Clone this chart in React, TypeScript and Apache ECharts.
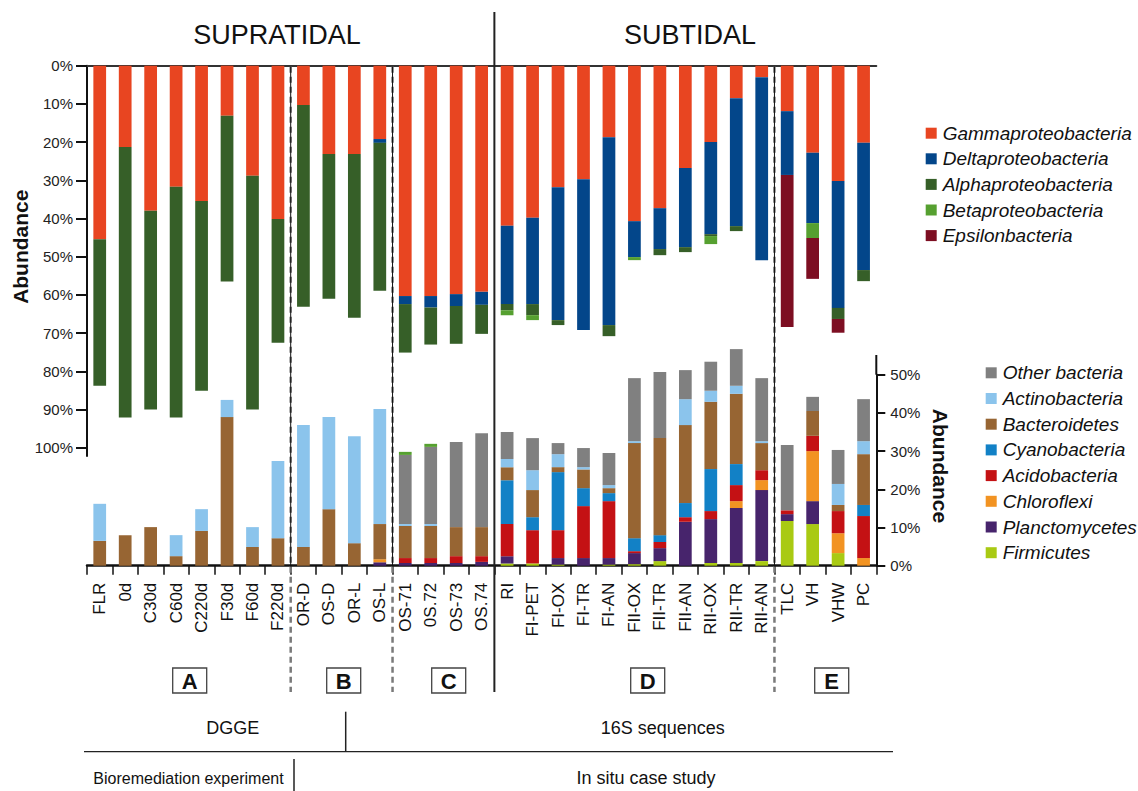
import React, { useEffect, useRef } from "react";
import * as echarts from "echarts";

const categories = [
  "FLR", "0d", "C30d", "C60d", "C220d", "F30d", "F60d", "F220d",
  "OR-D", "OS-D", "OR-L", "OS-L",
  "OS-71", "0S.72", "OS-73", "OS.74",
  "RI", "FI-PET", "FI-OX", "FI-TR", "FI-AN", "FII-OX", "FII-TR", "FII-AN", "RII-OX", "RII-TR", "RII-AN",
  "TLC", "VH", "VHW", "PC",
];

// Upper panel (Proteobacteria, % abundance, stacked downward)
const gammaproteobacteria = [45.4, 21.3, 38.0, 31.7, 35.4, 13.1, 28.8, 40.1, 10.3, 23.1, 23.1, 19.2, 60.3, 60.3, 59.8, 59.2, 41.9, 39.8, 31.8, 29.7, 18.7, 40.7, 37.3, 26.8, 20.0, 8.5, 3.0, 11.9, 22.8, 30.2, 20.2];
const deltaproteobacteria = [0, 0, 0, 0, 0, 0, 0, 0, 0, 0, 0, 1.0, 2.1, 3.0, 3.1, 3.4, 20.5, 22.6, 34.8, 39.5, 49.2, 9.4, 10.7, 20.7, 24.1, 33.5, 47.9, 16.7, 18.4, 33.2, 33.3];
const alphaproteobacteria = [38.4, 70.8, 52.0, 60.4, 49.7, 43.4, 61.2, 32.4, 52.8, 37.9, 42.9, 38.7, 12.7, 9.7, 9.9, 7.6, 1.6, 2.9, 1.3, 0, 2.9, 0, 1.6, 1.3, 0.5, 1.3, 0, 0, 0, 2.9, 2.9];
const betaproteobacteria = [0, 0, 0, 0, 0, 0, 0, 0, 0, 0, 0, 0, 0, 0, 0, 0, 1.3, 1.3, 0, 0, 0, 0.8, 0, 0, 2.1, 0, 0, 0, 3.9, 0, 0];
const epsilonbacteria = [0, 0, 0, 0, 0, 0, 0, 0, 0, 0, 0, 0, 0, 0, 0, 0, 0, 0, 0, 0, 0, 0, 0, 0, 0, 0, 0, 39.8, 10.7, 3.6, 0];

// Lower panel (other phyla, % abundance, stacked upward)
const firmicutes = [0, 0, 0, 0, 0, 0, 0, 0, 0, 0, 0, 0, 0, 0, 0, 0, 0.6, 0.6, 0.3, 0, 0.3, 0.4, 1.2, 0, 0.7, 0.7, 1.2, 11.7, 10.9, 3.3, 0];
const planctomycetes = [0, 0, 0, 0, 0, 0, 0, 0, 0, 0, 0, 0.9, 0.7, 0.7, 0.7, 1.0, 1.9, 0, 1.7, 2.0, 1.7, 2.9, 3.4, 11.5, 11.5, 14.4, 18.6, 1.8, 6.0, 0, 0];
const chloroflexi = [0, 0, 0, 0, 0, 0, 0, 0, 0, 0, 0, 0.8, 0, 0, 0, 0, 0, 0, 0, 0, 0, 0, 0, 0, 0, 1.8, 2.6, 0, 13.1, 5.2, 2.0];
const acidobacteria = [0, 0, 0, 0, 0, 0, 0, 0, 0, 0, 0, 0, 1.3, 1.3, 1.8, 1.5, 8.4, 8.7, 7.3, 13.6, 14.9, 0.5, 1.6, 1.2, 2.1, 4.2, 2.6, 1.0, 4.0, 5.8, 11.0];
const cyanobacteria = [0, 0, 0, 0, 0, 0, 0, 0, 0, 0, 0, 0, 0, 0, 0, 0, 11.5, 3.4, 15.2, 4.7, 2.1, 3.4, 1.8, 3.7, 11.0, 5.5, 0, 0, 0, 0, 2.9];
const bacteroidetes = [6.5, 8.0, 10.1, 2.5, 9.1, 38.9, 4.9, 7.2, 4.9, 14.8, 5.9, 9.2, 8.4, 8.4, 7.6, 7.6, 3.4, 7.1, 1.3, 4.9, 1.3, 24.9, 25.4, 20.4, 17.6, 18.4, 7.1, 0, 6.5, 1.6, 13.3];
const actinobacteria = [9.7, 0, 0, 5.5, 5.7, 4.5, 5.2, 20.2, 31.9, 24.1, 28.0, 30.1, 0.5, 0.5, 0, 0, 2.1, 5.2, 3.4, 0.6, 0.8, 0.5, 0, 6.8, 2.9, 2.1, 0.5, 0, 0, 5.5, 3.4];
const otherBacteria = [0, 0, 0, 0, 0, 0, 0, 0, 0, 0, 0, 0, 18.1, 20.2, 22.3, 24.6, 7.1, 8.4, 2.9, 5.0, 8.4, 16.5, 17.3, 7.6, 7.6, 9.6, 16.5, 17.1, 3.7, 8.9, 11.0];
const betaLower = [0, 0, 0, 0, 0, 0, 0, 0, 0, 0, 0, 0, 0.8, 0.8, 0, 0, 0, 0, 0, 0, 0, 0, 0, 0, 0, 0, 0, 0, 0, 0, 0];

const topTicks = [0, 10, 20, 30, 40, 50, 60, 70, 80, 90, 100];
const bottomTicks = [0, 10, 20, 30, 40, 50];

const FONT = "'Liberation Sans', Arial, Helvetica, sans-serif";

const C = {
  gamma: "#E84521",
  delta: "#03468A",
  alpha: "#365F28",
  beta: "#56A030",
  eps: "#7D0E22",
  other: "#808080",
  actino: "#8BC4EC",
  bact: "#976533",
  cyano: "#1281C6",
  acido: "#C41114",
  chloro: "#F29322",
  plancto: "#47246C",
  firm: "#A9CA13",
};

export default function App() {
  const ref = useRef<HTMLDivElement>(null);

  useEffect(() => {
    document.body.style.margin = "0";
    if (!ref.current) return;
    const chart = echarts.init(ref.current, null, { renderer: "svg" });

    const gL = 87;
    const gW = 789.3;
    const catW = gW / categories.length;
    const sepX = (i: number) => gL + i * catW;

    const topSeries = [
      { name: "Gammaproteobacteria", data: gammaproteobacteria, color: C.gamma },
      { name: "Deltaproteobacteria", data: deltaproteobacteria, color: C.delta },
      { name: "Alphaproteobacteria", data: alphaproteobacteria, color: C.alpha },
      { name: "Betaproteobacteria", data: betaproteobacteria, color: C.beta },
      { name: "Epsilonbacteria", data: epsilonbacteria, color: C.eps },
    ].map((s) => ({
      type: "bar",
      name: s.name,
      xAxisIndex: 0,
      yAxisIndex: 0,
      stack: "top",
      barWidth: "50%",
      data: s.data,
      itemStyle: { color: s.color },
    }));

    const bottomSeries = [
      { name: "Firmicutes", data: firmicutes, color: C.firm },
      { name: "Planctomycetes", data: planctomycetes, color: C.plancto },
      { name: "Chloroflexi", data: chloroflexi, color: C.chloro },
      { name: "Acidobacteria", data: acidobacteria, color: C.acido },
      { name: "Cyanobacteria", data: cyanobacteria, color: C.cyano },
      { name: "Bacteroidetes", data: bacteroidetes, color: C.bact },
      { name: "Actinobacteria", data: actinobacteria, color: C.actino },
      { name: "Other bacteria", data: otherBacteria, color: C.other },
      { name: "Betaproteobacteria (lower)", data: betaLower, color: C.beta },
    ].map((s) => ({
      type: "bar",
      name: s.name,
      xAxisIndex: 1,
      yAxisIndex: 1,
      stack: "bottom",
      barWidth: "50%",
      clip: false,
      data: s.data,
      itemStyle: { color: s.color },
    }));

    const dashedSep = (x: number, y1: number, y2: number, y3: number) => [
      { type: "line", shape: { x1: x, y1, x2: x, y2: y3 }, style: { stroke: "#7a7a7a", lineWidth: 2.5, lineDash: [6, 4] }, z: 10 },
      { type: "line", shape: { x1: x, y1, x2: x, y2 }, style: { stroke: "#111", lineWidth: 1 }, z: 11 },
    ];

    const box = (cx: number, label: string) => [
      { type: "rect", shape: { x: cx - 17, y: 668, width: 34, height: 25 }, style: { fill: "#fff", stroke: "#444", lineWidth: 1.3 }, z: 10 },
      {
        type: "text", x: cx, y: 681, z: 11,
        style: { text: label, font: `bold 22px ${FONT}`, fill: "#111", textAlign: "center", textVerticalAlign: "middle", align: "center", verticalAlign: "middle" },
      },
    ];

    const txt = (x: number, y: number, text: string, size: number, extra: any = {}) => ({
      type: "text", x, y, z: 12, rotation: extra.rotation || 0,
      style: {
        text,
        font: `${extra.weight || "normal"} ${size}px ${FONT}`,
        fill: "#111",
        textAlign: extra.align || "center",
        align: extra.align || "center",
        textVerticalAlign: "middle",
        verticalAlign: "middle",
      },
    });

    const option: any = {
      animation: false,
      textStyle: { fontFamily: FONT },
      grid: [
        { left: gL, top: 65.7, width: gW, height: 382 },
        { left: gL, top: 374.7, width: gW, height: 191 },
      ],
      xAxis: [
        {
          type: "category", gridIndex: 0, data: categories, position: "top",
          axisLine: { onZero: false, lineStyle: { color: "#333", width: 2 } },
          axisTick: { show: false }, axisLabel: { show: false }, splitLine: { show: false },
        },
        {
          type: "category", gridIndex: 1, data: categories, position: "bottom",
          axisLine: { onZero: false, lineStyle: { color: "#111", width: 2.5 } },
          axisTick: { show: true, interval: 0, length: 9, lineStyle: { color: "#111", width: 1.5 } },
          axisLabel: { interval: 0, rotate: 90, fontSize: 17, color: "#111", margin: 17, fontFamily: FONT },
          splitLine: { show: false },
        },
      ],
      yAxis: [
        {
          type: "value", gridIndex: 0, inverse: true, min: topTicks[0], max: topTicks[topTicks.length - 1], interval: 10,
          axisLine: { show: true, lineStyle: { color: "#111", width: 2 } },
          axisTick: { show: true, length: 11, lineStyle: { color: "#111", width: 2 } },
          axisLabel: { formatter: "{value}%", fontSize: 15, color: "#222", margin: 14, fontFamily: FONT },
          splitLine: { show: false },
        },
        {
          type: "value", gridIndex: 1, position: "right", min: bottomTicks[0], max: bottomTicks[bottomTicks.length - 1], interval: 10,
          axisLine: { show: true, lineStyle: { color: "#111", width: 2 } },
          axisTick: { show: true, length: 9, lineStyle: { color: "#111", width: 2 } },
          axisLabel: { formatter: "{value}%", fontSize: 15, color: "#222", margin: 14, fontFamily: FONT },
          splitLine: { show: false },
        },
      ],
      legend: [
        {
          data: ["Gammaproteobacteria", "Deltaproteobacteria", "Alphaproteobacteria", "Betaproteobacteria", "Epsilonbacteria"],
          orient: "vertical", left: 920.7, top: 118.2, itemWidth: 11, itemHeight: 11, itemGap: 5.6,
          icon: "rect", selectedMode: false,
          textStyle: { fontSize: 19, fontStyle: "italic", color: "#111", lineHeight: 20, padding: [0, 0, 0, 1], fontFamily: FONT },
        },
        {
          data: ["Other bacteria", "Actinobacteria", "Bacteroidetes", "Cyanobacteria", "Acidobacteria", "Chloroflexi", "Planctomycetes", "Firmicutes"],
          orient: "vertical", left: 980.7, top: 357.8, itemWidth: 11, itemHeight: 11, itemGap: 5.7,
          icon: "rect", selectedMode: false,
          textStyle: { fontSize: 19, fontStyle: "italic", color: "#111", lineHeight: 20, padding: [0, 0, 0, 1], fontFamily: FONT },
        },
      ],
      graphic: [
        txt(277, 35, "SUPRATIDAL", 27),
        txt(690, 35, "SUBTIDAL", 27),
        // axis extensions
        { type: "line", shape: { x1: gL, y1: 447.7, x2: gL, y2: 456.7 }, style: { stroke: "#111", lineWidth: 2 }, z: 5 },
        { type: "line", shape: { x1: gL + gW, y1: 374.7, x2: gL + gW, y2: 355 }, style: { stroke: "#111", lineWidth: 2 }, z: 5 },
        // separators
        ...dashedSep(sepX(8), 66.7, 565.7, 692),
        ...dashedSep(sepX(12), 66.7, 565.7, 692),
        ...dashedSep(sepX(27), 66.7, 565.7, 692),
        { type: "line", shape: { x1: sepX(16), y1: 12, x2: sepX(16), y2: 692 }, style: { stroke: "#222", lineWidth: 2 }, z: 10 },
        // axis titles
        txt(20, 246.7, "Abundance", 21, { weight: "bold", rotation: Math.PI / 2 }),
        txt(940, 466, "Abundance", 21, { weight: "bold", rotation: -Math.PI / 2 }),
        // group boxes
        ...box(189.7, "A"),
        ...box(343.7, "B"),
        ...box(448.7, "C"),
        ...box(647.7, "D"),
        ...box(831.7, "E"),
        // method / study rows
        txt(232.7, 727.7, "DGGE", 18),
        txt(662.7, 727.7, "16S sequences", 18),
        { type: "line", shape: { x1: 345.7, y1: 711.7, x2: 345.7, y2: 751.7 }, style: { stroke: "#222", lineWidth: 1.5 }, z: 10 },
        { type: "line", shape: { x1: 84, y1: 751.7, x2: 893, y2: 751.7 }, style: { stroke: "#222", lineWidth: 1.2 }, z: 10 },
        txt(93.3, 778.3, "Bioremediation experiment", 16, { align: "left" }),
        txt(646, 778.3, "In situ case study", 18),
        { type: "line", shape: { x1: 294, y1: 759, x2: 294, y2: 791 }, style: { stroke: "#222", lineWidth: 1.5 }, z: 10 },
      ],
      series: [...topSeries, ...bottomSeries],
    };

    chart.setOption(option);
    return () => chart.dispose();
  }, []);

  return <div ref={ref} style={{ width: 1138, height: 791 }} />;
}
